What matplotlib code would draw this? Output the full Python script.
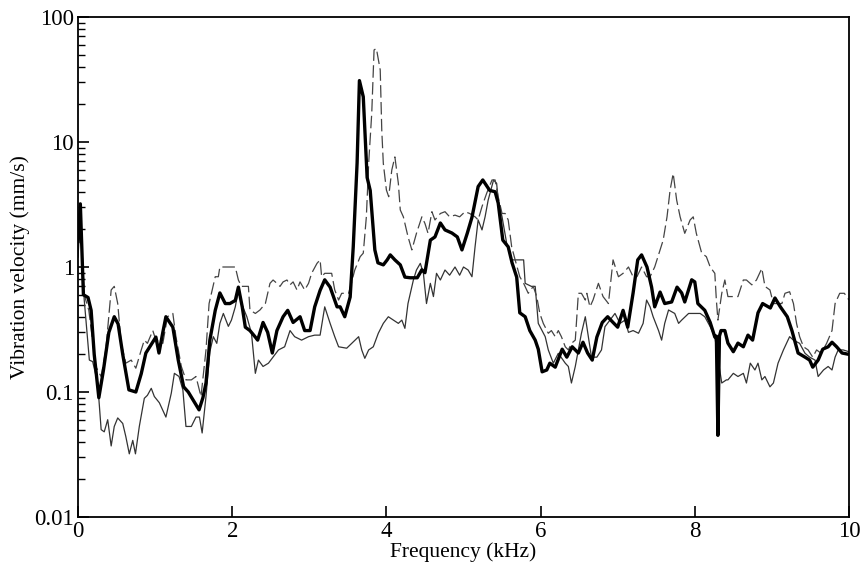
import matplotlib
matplotlib.use("Agg")
import matplotlib.pyplot as plt
from matplotlib.ticker import FixedLocator, LogLocator, NullFormatter, FuncFormatter

# ---------------- data (frequency in kHz, velocity in mm/s) ----------------
thick_f = [0.00, 0.03, 0.07, 0.13, 0.17, 0.21, 0.27, 0.33, 0.40, 0.47, 0.52, 0.58, 0.66, 0.75,
           0.82, 0.88, 0.95, 1.01, 1.05, 1.10, 1.14, 1.23, 1.30, 1.37, 1.43, 1.50, 1.57, 1.62,
           1.66, 1.71, 1.78, 1.84, 1.91, 1.97, 2.04, 2.08, 2.13, 2.17, 2.23, 2.30, 2.33, 2.40,
           2.46, 2.52, 2.58, 2.66, 2.72, 2.79, 2.88, 2.94, 3.01, 3.07, 3.14, 3.20, 3.27, 3.36,
           3.40, 3.46, 3.53, 3.57, 3.62, 3.65, 3.70, 3.75, 3.79, 3.85, 3.89, 3.96, 4.01, 4.05,
           4.11, 4.18, 4.24, 4.31, 4.40, 4.46, 4.50, 4.57, 4.63, 4.70, 4.76, 4.85, 4.92, 4.98,
           5.05, 5.11, 5.19, 5.25, 5.34, 5.41, 5.45, 5.51, 5.58, 5.63, 5.69, 5.73, 5.80, 5.86,
           5.93, 5.97, 6.02, 6.08, 6.12, 6.19, 6.28, 6.34, 6.41, 6.49, 6.55, 6.61, 6.67, 6.73,
           6.80, 6.87, 6.94, 7.00, 7.07, 7.13, 7.20, 7.26, 7.31, 7.38, 7.44, 7.48, 7.55, 7.61,
           7.70, 7.77, 7.83, 7.87, 7.96, 8.00, 8.04, 8.13, 8.20, 8.26, 8.28, 8.30, 8.32, 8.34,
           8.39, 8.43, 8.50, 8.56, 8.63, 8.69, 8.75, 8.82, 8.88, 8.98, 9.04, 9.11, 9.20, 9.26,
           9.34, 9.43, 9.49, 9.53, 9.60, 9.66, 9.73, 9.78, 9.84, 9.91, 10.00]
thick_v = [1.6, 3.2, 0.6, 0.57, 0.45, 0.2, 0.09, 0.15, 0.3, 0.40, 0.35, 0.2, 0.104, 0.1,
           0.14, 0.205, 0.24, 0.275, 0.205, 0.3, 0.40, 0.33, 0.18, 0.11, 0.10, 0.085, 0.072, 0.09,
           0.118, 0.26, 0.45, 0.62, 0.51, 0.51, 0.54, 0.69, 0.48, 0.33, 0.31, 0.275, 0.26, 0.36,
           0.30, 0.205, 0.31, 0.40, 0.45, 0.36, 0.40, 0.31, 0.31, 0.48, 0.65, 0.79, 0.69, 0.48,
           0.48, 0.40, 0.575, 1.45, 6.8, 31.0, 23.0, 5.2, 4.1, 1.37, 1.08, 1.04, 1.14, 1.25,
           1.14, 1.04, 0.83, 0.82, 0.82, 0.95, 0.90, 1.64, 1.74, 2.25, 1.98, 1.87, 1.74, 1.37,
           1.87, 2.5, 4.4, 4.97, 4.1, 4.0, 3.25, 1.64, 1.45, 1.08, 0.83, 0.43, 0.40, 0.31,
           0.26, 0.22, 0.145, 0.15, 0.17, 0.158, 0.22, 0.19, 0.23, 0.205, 0.25, 0.205, 0.18, 0.275,
           0.36, 0.40, 0.36, 0.33, 0.45, 0.33, 0.62, 1.14, 1.25, 1.0, 0.69, 0.48, 0.63, 0.51,
           0.525, 0.69, 0.62, 0.525, 0.79, 0.76, 0.51, 0.45, 0.36, 0.275, 0.28, 0.045, 0.28, 0.31,
           0.31, 0.246, 0.21, 0.246, 0.23, 0.285, 0.26, 0.43, 0.51, 0.47, 0.565, 0.48, 0.40, 0.31,
           0.205, 0.19, 0.18, 0.158, 0.18, 0.22, 0.23, 0.25, 0.23, 0.205, 0.20]

thin_f = [0.00, 0.03, 0.08, 0.147, 0.19, 0.255, 0.30, 0.34, 0.385, 0.43, 0.47, 0.515, 0.58, 0.62,
          0.665, 0.71, 0.745, 0.795, 0.86, 0.90, 0.95, 0.99, 1.055, 1.14, 1.21, 1.25, 1.31, 1.36,
          1.40, 1.47, 1.53, 1.575, 1.61, 1.66, 1.71, 1.755, 1.80, 1.84, 1.885, 1.95, 1.99, 2.04,
          2.08, 2.12, 2.19, 2.25, 2.30, 2.34, 2.40, 2.47, 2.53, 2.60, 2.68, 2.75, 2.81, 2.90,
          2.99, 3.07, 3.14, 3.20, 3.27, 3.33, 3.38, 3.485, 3.55, 3.64, 3.68, 3.72, 3.77, 3.83,
          3.895, 3.96, 4.025, 4.09, 4.155, 4.20, 4.24, 4.28, 4.35, 4.39, 4.44, 4.48, 4.52, 4.57,
          4.61, 4.65, 4.70, 4.76, 4.82, 4.89, 4.95, 5.00, 5.06, 5.11, 5.15, 5.19, 5.24, 5.28,
          5.32, 5.39, 5.43, 5.45, 5.50, 5.56, 5.625, 5.78, 5.80, 5.88, 5.93, 5.97, 6.06, 6.10,
          6.165, 6.23, 6.32, 6.36, 6.40, 6.45, 6.49, 6.53, 6.58, 6.62, 6.66, 6.73, 6.79, 6.835,
          6.90, 6.965, 7.03, 7.095, 7.14, 7.20, 7.27, 7.33, 7.375, 7.42, 7.46, 7.53, 7.57, 7.61,
          7.66, 7.74, 7.79, 7.83, 7.92, 8.00, 8.07, 8.13, 8.20, 8.26, 8.31, 8.35, 8.41, 8.43,
          8.50, 8.56, 8.63, 8.67, 8.72, 8.78, 8.82, 8.87, 8.91, 8.975, 9.02, 9.08, 9.15, 9.23,
          9.28, 9.36, 9.43, 9.49, 9.56, 9.60, 9.67, 9.73, 9.78, 9.82, 9.86, 9.925, 10.00]
thin_v = [1.2, 2.5, 0.55, 0.18, 0.175, 0.118, 0.05, 0.048, 0.06, 0.037, 0.053, 0.062, 0.056, 0.044,
          0.032, 0.041, 0.032, 0.053, 0.089, 0.094, 0.107, 0.092, 0.082, 0.063, 0.098, 0.141, 0.133, 0.104,
          0.053, 0.053, 0.063, 0.063, 0.047, 0.092, 0.21, 0.277, 0.245, 0.354, 0.425, 0.335, 0.376, 0.48,
          0.655, 0.51, 0.40, 0.295, 0.141, 0.18, 0.16, 0.17, 0.19, 0.217, 0.23, 0.31, 0.277, 0.26,
          0.277, 0.285, 0.285, 0.48, 0.354, 0.277, 0.23, 0.224, 0.245, 0.277, 0.217, 0.186, 0.217, 0.23,
          0.295, 0.354, 0.40, 0.376, 0.354, 0.376, 0.323, 0.51, 0.787, 0.946, 1.07, 0.89, 0.51, 0.74,
          0.58, 0.89, 0.787, 0.946, 0.86, 1.0, 0.86, 1.0, 0.946, 0.836, 1.45, 2.38, 1.98, 2.52,
          3.43, 4.97, 4.67, 3.43, 2.52, 1.55, 1.14, 1.14, 0.74, 0.70, 0.70, 0.354, 0.277, 0.217,
          0.17, 0.204, 0.17, 0.16, 0.118, 0.16, 0.217, 0.295, 0.40, 0.277, 0.19, 0.19, 0.217, 0.333,
          0.376, 0.425, 0.354, 0.376, 0.30, 0.31, 0.295, 0.354, 0.544, 0.48, 0.40, 0.31, 0.26, 0.354,
          0.453, 0.425, 0.354, 0.376, 0.425, 0.425, 0.425, 0.40, 0.333, 0.277, 0.17, 0.118, 0.125, 0.125,
          0.141, 0.133, 0.141, 0.118, 0.17, 0.15, 0.17, 0.125, 0.133, 0.11, 0.118, 0.17, 0.217, 0.277,
          0.26, 0.245, 0.204, 0.19, 0.18, 0.133, 0.15, 0.16, 0.15, 0.19, 0.217, 0.217, 0.21]

dash_f = [0.00, 0.03, 0.08, 0.14, 0.23, 0.30, 0.36, 0.43, 0.47, 0.515, 0.56, 0.62, 0.69, 0.75,
          0.82, 0.86, 0.90, 0.97, 1.01, 1.10, 1.16, 1.23, 1.27, 1.34, 1.40, 1.47, 1.53, 1.595,
          1.66, 1.70, 1.78, 1.82, 1.84, 2.04, 2.08, 2.12, 2.21, 2.23, 2.30, 2.36, 2.43, 2.49,
          2.53, 2.58, 2.62, 2.66, 2.71, 2.75, 2.79, 2.84, 2.88, 2.94, 2.99, 3.03, 3.10, 3.14,
          3.16, 3.20, 3.29, 3.33, 3.38, 3.42, 3.51, 3.59, 3.66, 3.70, 3.74, 3.77, 3.81, 3.84,
          3.87, 3.92, 3.94, 3.96, 4.00, 4.03, 4.07, 4.11, 4.155, 4.18, 4.22, 4.28, 4.33, 4.39,
          4.46, 4.50, 4.54, 4.59, 4.63, 4.70, 4.76, 4.82, 4.89, 4.95, 5.02, 5.08, 5.15, 5.19,
          5.24, 5.30, 5.37, 5.41, 5.45, 5.50, 5.54, 5.58, 5.625, 5.67, 5.73, 5.78, 5.84, 5.905,
          5.95, 5.99, 6.035, 6.10, 6.14, 6.19, 6.23, 6.27, 6.32, 6.36, 6.40, 6.45, 6.49, 6.53,
          6.58, 6.60, 6.64, 6.68, 6.75, 6.81, 6.88, 6.94, 7.01, 7.07, 7.14, 7.20, 7.25, 7.31,
          7.375, 7.42, 7.48, 7.55, 7.59, 7.64, 7.68, 7.72, 7.765, 7.81, 7.87, 7.94, 7.98, 8.02,
          8.09, 8.15, 8.20, 8.26, 8.28, 8.30, 8.35, 8.39, 8.43, 8.50, 8.56, 8.63, 8.67, 8.74,
          8.80, 8.87, 8.91, 8.975, 9.02, 9.13, 9.17, 9.23, 9.28, 9.32, 9.36, 9.41, 9.47, 9.53,
          9.58, 9.64, 9.71, 9.78, 9.82, 9.88, 9.94, 10.00]
dash_v = [1.4, 2.8, 0.6, 0.45, 0.16, 0.133, 0.217, 0.655, 0.70, 0.51, 0.245, 0.17, 0.18, 0.155,
          0.217, 0.26, 0.245, 0.31, 0.26, 0.245, 0.40, 0.425, 0.277, 0.16, 0.125, 0.125, 0.133, 0.092,
          0.217, 0.51, 0.836, 0.836, 1.0, 1.0, 0.787, 0.70, 0.70, 0.453, 0.425, 0.453, 0.51, 0.74,
          0.787, 0.74, 0.70, 0.76, 0.787, 0.72, 0.76, 0.655, 0.76, 0.655, 0.74, 0.89, 1.07, 1.14,
          0.836, 0.89, 0.89, 0.655, 0.544, 0.616, 0.616, 0.946, 1.21, 1.29, 2.52, 6.75, 17.0, 54.5,
          56.0, 37.7, 12.4, 6.75, 4.13, 3.65, 5.97, 7.6, 4.67, 2.86, 2.52, 1.75, 1.37, 1.86,
          2.52, 2.23, 1.86, 2.77, 2.38, 2.68, 2.77, 2.52, 2.6, 2.52, 2.77, 2.68, 2.52, 2.38,
          3.04, 3.88, 4.97, 4.97, 3.65, 2.68, 2.68, 2.38, 1.45, 1.14, 0.836, 0.74, 0.616, 0.70,
          0.58, 0.425, 0.354, 0.295, 0.31, 0.277, 0.31, 0.277, 0.23, 0.217, 0.245, 0.26, 0.616, 0.616,
          0.544, 0.616, 0.48, 0.544, 0.74, 0.58, 0.51, 1.14, 0.836, 0.89, 1.0, 0.836, 0.836, 1.0,
          0.836, 0.836, 1.0, 1.37, 1.64, 2.52, 4.13, 5.6, 3.43, 2.52, 1.86, 2.38, 2.52, 1.86,
          1.29, 1.21, 1.0, 0.89, 0.544, 0.376, 0.616, 0.787, 0.58, 0.58, 0.58, 0.787, 0.787, 0.72,
          0.787, 0.975, 0.70, 0.655, 0.51, 0.51, 0.616, 0.634, 0.51, 0.354, 0.277, 0.23, 0.217, 0.19,
          0.217, 0.204, 0.245, 0.31, 0.51, 0.616, 0.616, 0.544]

x_ticks = [0, 2, 4, 6, 8, 10]
y_ticks = [0.01, 0.1, 1, 10, 100]
y_tick_labels = ["0.01", "0.1", "1", "10", "100"]

# ---------------- figure ----------------
plt.rcParams['font.family'] = ['Liberation Serif', 'DejaVu Serif']
fig = plt.figure(figsize=(8.64, 5.71), dpi=100)
ax = fig.add_axes([0.0903, 0.0946, 0.8923, 0.8756])

ax.plot(thin_f, thin_v, color='#333333', lw=0.9)
ax.plot(dash_f, dash_v, color='#444444', lw=0.9, dashes=(10, 3.5))
ax.plot(thick_f, thick_v, color='black', lw=2.4, solid_joinstyle='round')

ax.set_yscale('log')
ax.set_xlim(0, 10)
ax.set_ylim(0.01, 100)

ax.xaxis.set_major_locator(FixedLocator(x_ticks))
ax.yaxis.set_major_locator(FixedLocator(y_ticks))
ax.yaxis.set_major_formatter(FuncFormatter(lambda v, p: y_tick_labels[y_ticks.index(v)] if v in y_ticks else ""))
ax.yaxis.set_minor_locator(LogLocator(base=10, subs=range(2, 10)))
ax.yaxis.set_minor_formatter(NullFormatter())

ax.tick_params(axis='both', which='major', direction='in', length=8, width=1.2,
               labelsize=16.5, top=False, right=False, pad=3)
ax.tick_params(axis='y', which='minor', direction='in', length=5, width=1.0, right=False)

for s in ax.spines.values():
    s.set_linewidth(1.3)

ax.set_xlabel('Frequency (kHz)', fontsize=15.5, labelpad=0)
ax.set_ylabel('Vibration velocity (mm/s)', fontsize=15.5, labelpad=3)

fig.savefig('out.png', dpi=100)
